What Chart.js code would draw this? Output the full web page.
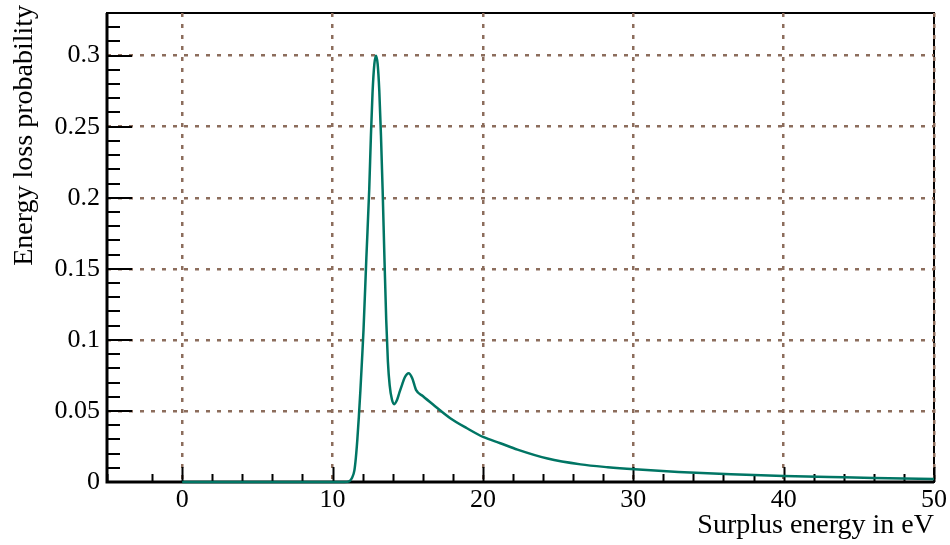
<!DOCTYPE html>
<html>
<head>
<meta charset="utf-8">
<script src="https://cdn.jsdelivr.net/npm/chart.js@4"></script>
<style>
    html, body { margin: 0; padding: 0; background: #fff; }
    canvas { display: block; }
</style>
</head>
<body>
<canvas id="myChart" width="950" height="545"></canvas>
<script>
// surplus energy (eV) and energy loss probability
const energy = [0, 2, 4, 6, 8, 10, 10.8, 11.1, 11.3, 11.45, 11.55, 11.65, 11.75, 11.85, 11.95,
    12.06, 12.25, 12.44, 12.55, 12.66, 12.78, 12.89, 13.0, 13.11, 13.22, 13.33, 13.45, 13.57,
    13.68, 13.8, 13.95, 14.1, 14.3, 14.45, 14.61, 14.8, 15.06, 15.3, 15.45, 15.55, 16.0, 16.72,
    17.83, 18.94, 20.05, 21.16, 22.3, 24.3, 26.5, 28.3, 30.1, 33.0, 36.5, 40.0, 44.0, 47.0, 50.0];
const lossProb = [0, 0, 0, 0, 0, 0, 0, 0.0005, 0.003, 0.008, 0.017, 0.03, 0.046, 0.064, 0.084,
    0.107, 0.158, 0.206, 0.243, 0.274, 0.294, 0.3, 0.294, 0.275, 0.244, 0.206, 0.158, 0.114,
    0.085, 0.068, 0.058, 0.0547, 0.058, 0.063, 0.068, 0.0735, 0.0765, 0.073, 0.068, 0.0648, 0.0605, 0.0542,
    0.0449, 0.0378, 0.0315, 0.0273, 0.0228, 0.0165, 0.0124, 0.0104, 0.0089, 0.007, 0.0054, 0.0042, 0.0033, 0.0027, 0.0021];

const xTickLabels = ['0', '10', '20', '30', '40', '50'];
const yTickLabels = ['0', '0.05', '0.1', '0.15', '0.2', '0.25', '0.3'];
const xTitle = 'Surplus energy in eV';
const yTitle = 'Energy loss probability';

const serif = "'Liberation Serif', 'DejaVu Serif', serif";
const gridColor = '#8c6d5c';

function isMultiple(v, step) {
    return Math.abs(v / step - Math.round(v / step)) < 1e-6;
}

// ROOT style frame, inward tick marks and y title
const rootFrame = {
    id: 'rootFrame',
    beforeDraw(chart) {
        const { ctx, chartArea: a } = chart;
        ctx.save();
        ctx.strokeStyle = '#000';
        ctx.lineWidth = 2;
        ctx.strokeRect(a.left, a.top, a.right - a.left, a.bottom - a.top);
        ctx.restore();
    },
    beforeDatasetsDraw(chart) {
        const { ctx, chartArea: a, scales: { x, y } } = chart;
        ctx.save();
        ctx.strokeStyle = '#000';
        ctx.lineWidth = 2;
        ctx.beginPath();
        x.ticks.forEach(t => {
            const px = Math.round(x.getPixelForValue(t.value)) + 0.5;
            const len = isMultiple(t.value, 10) ? 15 : 8;
            ctx.moveTo(px, a.bottom);
            ctx.lineTo(px, a.bottom - len);
        });
        y.ticks.forEach(t => {
            const py = Math.round(y.getPixelForValue(t.value));
            const len = isMultiple(t.value, 0.05) ? 25 : 13;
            ctx.moveTo(a.left, py);
            ctx.lineTo(a.left + len, py);
        });
        ctx.stroke();
        ctx.lineWidth = 3;
        ctx.beginPath();
        ctx.moveTo(a.left, a.top);
        ctx.lineTo(a.left, a.bottom);
        ctx.lineTo(a.right, a.bottom);
        ctx.stroke();
        ctx.restore();
    },
    afterDraw(chart) {
        const { ctx } = chart;
        ctx.save();
        ctx.fillStyle = '#000';
        ctx.font = '28px ' + serif;
        ctx.translate(25, 5);
        ctx.rotate(-Math.PI / 2);
        ctx.textAlign = 'right';
        ctx.textBaseline = 'middle';
        ctx.fillText(yTitle, 0, 0);
        ctx.restore();
    }
};

const myChart = document.getElementById('myChart').getContext('2d');

const lossChart = new Chart(myChart, {
    type: 'line',
    data: {
        datasets: [{
            data: energy.map((e, i) => ({ x: e, y: lossProb[i] })),
            borderColor: '#007564',
            borderWidth: 2.5,
            pointRadius: 0,
            cubicInterpolationMode: 'monotone',
            fill: false,
            clip: 4
        }]
    },
    options: {
        responsive: false,
        animation: false,
        layout: {
            padding: { left: 0, right: 16, top: 13, bottom: 0 }
        },
        plugins: {
            legend: { display: false },
            tooltip: { enabled: false }
        },
        scales: {
            x: {
                type: 'linear',
                min: -5,
                max: 50,
                afterFit: s => {
                    s.height = 63;
                    s.paddingLeft = 0;
                    s.paddingRight = 0;
                },
                ticks: {
                    stepSize: 2,
                    autoSkip: false,
                    maxRotation: 0,
                    padding: 3,
                    color: '#000',
                    font: { family: serif, size: 26 },
                    callback: v => isMultiple(v, 10) && xTickLabels.includes(String(v)) ? String(v) : ''
                },
                grid: {
                    drawTicks: false,
                    lineWidth: 2.5,
                    color: c => c.tick && isMultiple(c.tick.value, 10) && c.tick.value > -5 ? gridColor : 'rgba(0,0,0,0)'
                },
                border: { display: false, dash: [4, 7] },
                title: {
                    display: true,
                    text: xTitle,
                    align: 'end',
                    color: '#000',
                    font: { family: serif, size: 28 },
                    padding: { top: 0, bottom: 3 }
                }
            },
            y: {
                type: 'linear',
                min: 0,
                max: 0.33,
                afterFit: s => {
                    s.width = 107;
                    s.paddingTop = 0;
                    s.paddingBottom = 0;
                },
                ticks: {
                    stepSize: 0.01,
                    autoSkip: false,
                    padding: 7,
                    color: '#000',
                    font: { family: serif, size: 26 },
                    callback: v => {
                        if (!isMultiple(v, 0.05)) return '';
                        return yTickLabels[Math.round(v / 0.05)] || '';
                    }
                },
                grid: {
                    drawTicks: false,
                    lineWidth: 2.5,
                    color: c => c.tick && isMultiple(c.tick.value, 0.05) && c.tick.value > 0 && c.tick.value < 0.32 ? gridColor : 'rgba(0,0,0,0)'
                },
                border: { display: false, dash: [4, 7] }
            }
        }
    },
    plugins: [rootFrame]
});
</script>
</body>
</html>
